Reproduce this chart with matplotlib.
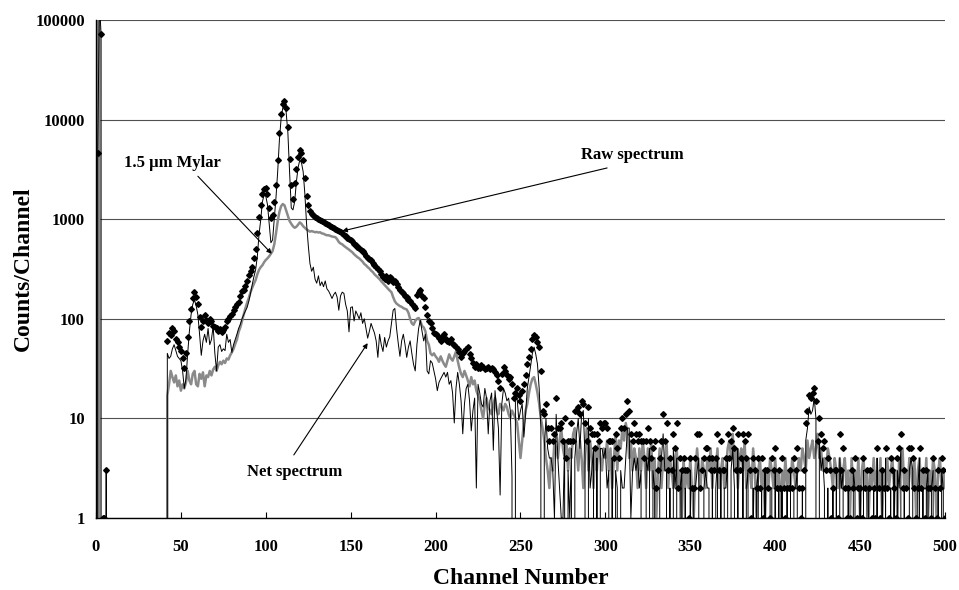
import numpy as np
import matplotlib
matplotlib.use('Agg')
import matplotlib.pyplot as plt

# Channels 0-7 hold the pulser / noise spike at the start of the spectrum.
spike_channels = [0, 1, 2, 3, 4, 5, 6, 7]
spike_raw = [0, 4600, 150000, 72000, 1, 1, 3, 0]
spike_mylar = [0, 150000, 150000, 0, 0, 0, 0, 0]
spike_net = [0, 4600, 150000, 72000, 0, 0, 3, 0]

# Main part of the spectrum, channels 41-500 (one value per channel).
main_start = 41
main_stop = 500

raw_counts = [
    0, 60, 72, 68, 80, 75, 62, 58, 52, 48,
    40, 32, 45, 66, 95, 125, 160, 185, 165, 140,
    105, 82, 95, 108, 98, 90, 100, 96, 85, 82,
    80, 76, 79, 74, 78, 82, 96, 100, 106, 112,
    122, 130, 140, 146, 170, 190, 195, 215, 240, 275,
    300, 330, 410, 500, 720, 1050, 1400, 1800, 2000, 2050,
    1800, 1300, 1020, 1100, 1500, 2200, 3900, 7300, 11500, 14500,
    15500, 13000, 8500, 4000, 2200, 1600, 2300, 3200, 4200, 4900,
    4600, 3900, 2600, 1700, 1400, 1200, 1130, 1100, 1060, 1040,
    1000, 990, 960, 940, 920, 900, 880, 860, 830, 810,
    800, 780, 760, 740, 720, 700, 680, 650, 640, 620,
    600, 560, 545, 530, 510, 490, 480, 460, 430, 410,
    395, 385, 360, 350, 330, 315, 300, 285, 260, 250,
    270, 240, 265, 255, 235, 240, 225, 210, 195, 185,
    180, 170, 165, 155, 150, 142, 135, 128, 175, 185,
    195, 170, 160, 132, 110, 94, 90, 80, 72, 70,
    68, 64, 60, 66, 70, 62, 60, 59, 62, 56,
    55, 52, 50, 46, 41, 45, 47, 50, 52, 44,
    40, 36, 33, 35, 32, 32, 34, 33, 31, 32,
    33, 31, 32, 31, 29, 27, 24, 20, 28, 33,
    30, 27, 25, 26, 22, 16, 18, 20, 17, 15,
    19, 22, 27, 35, 41, 50, 62, 69, 66, 58,
    52, 30, 12, 11, 14, 8, 6, 8, 6, 7,
    16, 8, 8, 9, 6, 10, 4, 6, 6, 9,
    6, 12, 12, 13, 11, 15, 14, 9, 6, 13,
    8, 7, 7, 5, 7, 6, 9, 8, 9, 9,
    8, 6, 6, 6, 4, 7, 5, 4, 8, 10,
    8, 11, 15, 12, 7, 6, 9, 7, 6, 7,
    6, 6, 4, 6, 8, 6, 4, 5, 6, 2,
    3, 4, 6, 11, 6, 9, 3, 4, 3, 7,
    5, 9, 2, 4, 3, 4, 3, 3, 1, 4,
    2, 2, 4, 7, 7, 2, 3, 4, 5, 5,
    4, 3, 4, 3, 4, 7, 3, 6, 3, 3,
    4, 7, 4, 6, 8, 5, 3, 7, 3, 4,
    7, 6, 4, 7, 3, 1, 4, 3, 2, 4,
    2, 4, 1, 3, 3, 2, 1, 4, 3, 5,
    2, 3, 2, 4, 2, 1, 2, 2, 3, 2,
    4, 3, 5, 2, 1, 2, 3, 9, 12, 17,
    16, 18, 20, 15, 6, 10, 7, 5, 6, 3,
    4, 3, 1, 2, 3, 3, 1, 7, 3, 5,
    2, 1, 2, 1, 3, 2, 4, 1, 2, 2,
    1, 4, 2, 3, 2, 3, 1, 2, 1, 5,
    2, 1, 3, 2, 5, 2, 1, 4, 3, 2,
    1, 4, 5, 7, 2, 3, 2, 1, 5, 5,
    4, 2, 1, 2, 5, 2, 3, 1, 3, 2,
    2, 1, 4, 2, 1, 3, 2, 4, 3, 1,
]

mylar_counts = [
    0, 17, 22, 30, 26, 23, 27, 21, 24, 19,
    22, 20, 23, 30, 24, 22, 28, 30, 22, 21,
    28, 25, 29, 21, 27, 26, 30, 27, 31, 33,
    30, 34, 37, 35, 38, 36, 40, 39, 43, 46,
    50, 56, 62, 74, 82, 95, 110, 128, 145, 162,
    185, 205, 225, 245, 280, 310, 330, 345, 370, 390,
    405, 425, 450, 480, 560, 720, 950, 1180, 1350, 1420,
    1380, 1220, 1080, 960, 900, 850, 820, 840, 880, 930,
    900, 850, 820, 790, 770, 750, 760, 750, 740, 745,
    735, 740, 720, 715, 700, 690, 690, 680, 670, 665,
    660, 630, 590, 570, 560, 540, 525, 510, 495, 480,
    465, 445, 430, 415, 405, 390, 375, 355, 345, 330,
    320, 305, 295, 280, 270, 260, 250, 238, 228, 218,
    210, 200, 192, 185, 165, 150, 142, 138, 134, 132,
    128, 126, 124, 115, 100, 90, 87, 95, 100, 102,
    95, 85, 82, 75, 60, 55, 45, 43, 45, 42,
    40, 37, 42, 38, 35, 33, 38, 44, 40, 38,
    42, 47, 38, 32, 28, 26, 30, 27, 24, 21,
    26, 22, 24, 19, 17, 15, 12, 10, 14, 16,
    13, 12, 11, 14, 16, 12, 11, 14, 13, 12,
    14, 13, 11, 10, 12, 11, 10, 9, 6, 4,
    6, 9, 12, 14, 18, 22, 25, 26, 22, 18,
    14, 10, 8, 6, 4, 3, 2, 4, 3, 6,
    5, 4, 6, 8, 5, 4, 6, 3, 5, 4,
    7, 8, 5, 3, 6, 4, 2, 5, 8, 3,
    6, 4, 2, 5, 3, 6, 4, 3, 5, 4,
    6, 3, 5, 2, 4, 7, 3, 6, 5, 8,
    6, 9, 7, 4, 6, 3, 5, 4, 2, 5,
    3, 6, 4, 2, 5, 3, 6, 2, 4, 1,
    3, 5, 2, 4, 3, 6, 2, 4, 3, 2,
    4, 5, 2, 3, 1, 4, 2, 3, 2, 4,
    2, 1, 3, 5, 3, 2, 4, 3, 2, 4,
    3, 5, 2, 4, 3, 5, 2, 3, 4, 2,
    3, 5, 6, 4, 7, 3, 5, 2, 4, 5,
    3, 6, 2, 4, 3, 2, 5, 3, 1, 3,
    4, 2, 3, 1, 3, 2, 4, 3, 2, 4,
    2, 3, 1, 3, 2, 4, 2, 3, 2, 4,
    3, 2, 3, 4, 3, 5, 4, 3, 6, 4,
    5, 6, 4, 5, 7, 4, 5, 3, 4, 3,
    5, 4, 3, 2, 4, 3, 2, 4, 2, 3,
    4, 2, 3, 1, 4, 2, 3, 2, 4, 1,
    3, 4, 2, 3, 1, 3, 2, 4, 2, 3,
    2, 4, 1, 3, 2, 4, 2, 3, 4, 2,
    3, 1, 4, 3, 5, 2, 3, 2, 4, 3,
    2, 4, 1, 3, 4, 2, 3, 2, 4, 1,
    3, 2, 4, 3, 1, 3, 4, 2, 3, 2,
]

net_counts = [
    0, 45, 40, 42, 50, 55, 48, 42, 40, 38,
    30, 20, 25, 45, 75, 110, 140, 155, 135, 110,
    70, 43, 60, 70, 58, 80, 55, 62, 85, 45,
    30, 52, 55, 47, 50, 48, 70, 58, 62, 46,
    55, 62, 70, 80, 88, 100, 110, 120, 130, 150,
    180, 220, 265, 310, 420, 700, 980, 1500, 1750, 1700,
    1400, 900, 580, 620, 1000, 1650, 3000, 6200, 10200, 13100,
    14100, 11800, 7400, 3000, 1300, 1240, 1500, 2350, 3300, 3900,
    3700, 3000, 1800, 910, 550, 360, 300, 330, 250, 228,
    270, 215, 235, 210, 240, 200, 190, 175, 160, 175,
    185, 165, 122, 170, 185, 180, 140, 120, 74, 130,
    132, 95, 120, 110, 100, 115, 90, 100, 80, 64,
    75, 90, 80, 72, 60, 41, 70, 55, 47, 65,
    52, 60, 66, 90, 122, 127, 80, 57, 42, 60,
    70, 55, 41, 52, 60, 45, 35, 30, 55, 80,
    97, 75, 60, 70, 30, 28, 38, 36, 30, 25,
    19, 23, 25, 27, 29, 26, 29, 22, 24, 18,
    9, 20, 29, 22, 15, 7, 14, 20, 22, 15,
    7.5, 12, 16, 2, 22, 18, 14, 13, 20, 16,
    7, 15, 18, 4.8, 19, 12, 8, 1.7, 14, 20,
    18, 15, 16, 12, 2.6, 0, 18, 16, 9.6, 12,
    14, 6.5, 11, 20, 26, 34, 45, 52, 44, 35,
    20, 8, 0, 5, 10, 5, 4, 4, 3, 1,
    11, 4, 2, 1, 1, 6, 0, 3, 1, 5,
    0, 4, 7, 10, 5, 11, 12, 4, 0, 10,
    2, 3, 5, 0, 4, 0, 5, 5, 4, 5,
    2, 3, 0, 4, 0, 3, 2, 0, 3, 2,
    2, 4, 8, 8, 1, 3, 4, 3, 4, 2,
    3, 0, 0, 4, 3, 5, 0, 3, 2, 0,
    0, 2, 4, 7, 3, 3, 0, 2, 0, 5,
    2, 4, 0, 2, 3, 0, 2, 0, 0, 3,
    0, 2, 2, 3, 4, 0, 0, 2, 3, 2,
    2, 0, 3, 0, 2, 4, 0, 3, 0, 2,
    2, 4, 0, 3, 5, 2, 0, 5, 0, 0,
    4, 0, 2, 3, 0, 0, 2, 0, 2, 3,
    0, 2, 0, 3, 0, 0, 2, 2, 0, 3,
    0, 2, 0, 2, 0, 0, 2, 0, 3, 0,
    2, 2, 3, 0, 0, 2, 0, 6, 8, 13,
    11, 12, 16, 10, 0, 6, 3, 4, 2, 0,
    2, 0, 0, 2, 0, 3, 0, 4, 2, 3,
    0, 0, 2, 0, 0, 3, 2, 0, 0, 2,
    0, 3, 0, 2, 2, 0, 0, 2, 0, 4,
    0, 0, 3, 0, 4, 0, 0, 2, 0, 3,
    0, 3, 2, 5, 0, 2, 0, 0, 3, 4,
    3, 0, 0, 2, 4, 0, 2, 0, 2, 3,
    0, 2, 3, 0, 0, 2, 0, 3, 2, 0,
]

x_ticks = [0, 50, 100, 150, 200, 250, 300, 350, 400, 450, 500]
y_ticks = [1, 10, 100, 1000, 10000, 100000]
y_tick_labels = ['1', '10', '100', '1000', '10000', '100000']

# Annotation anchors in data coordinates (channel, counts).
label_raw = (316, 4400)
arrow_raw_from = (301, 3270)
arrow_raw_to = (145, 760)
label_mylar = (45, 3660)
arrow_mylar_from = (60, 2700)
arrow_mylar_to = (103.5, 450)
label_net = (117, 2.9)
arrow_net_from = (116.5, 4.3)
arrow_net_to = (160, 57)


def build_series():

    """Join the spike block and the main block into one array per series."""

    channels = np.concatenate([spike_channels, np.arange(main_start, main_stop + 1)])
    raw = np.concatenate([spike_raw, raw_counts]).astype(float)
    mylar = np.concatenate([spike_mylar, mylar_counts]).astype(float)
    net = np.concatenate([spike_net, net_counts]).astype(float)
    return channels, raw, mylar, net


def main():

    """Draw the spectrum chart and save it."""

    font = 'Liberation Serif'
    channels, raw, mylar, net = build_series()

    fig = plt.figure(figsize=(9.59, 5.90), dpi=100)
    ax = fig.add_axes([0.1001, 0.1220, 0.8853, 0.8441])

    # Gray background (mylar) line, thin black net line, black raw markers.
    ax.plot(channels, mylar, color='#8a8a8a', lw=1.8, zorder=2)
    ax.plot(channels, net, color='black', lw=0.7, zorder=3)
    ax.plot(channels, raw, ls='none', marker='D', ms=2.9, color='black', zorder=4)

    ax.set_yscale('log', nonpositive='clip')
    ax.set_xlim(0, 500)
    ax.set_ylim(1, 100000)

    ax.set_xticks(x_ticks)
    ax.set_xticklabels([str(t) for t in x_ticks], fontfamily=font, fontweight='bold', fontsize=12)
    ax.set_yticks(y_ticks)
    ax.set_yticklabels(y_tick_labels, fontfamily=font, fontweight='bold', fontsize=12)
    ax.yaxis.set_minor_locator(matplotlib.ticker.NullLocator())
    ax.tick_params(axis='x', direction='in', length=4, width=0.8, pad=15)
    ax.tick_params(axis='y', length=0, pad=8)

    ax.grid(axis='y', color='#505050', lw=0.8)
    ax.set_axisbelow(True)
    for side in ['top', 'right']:
        ax.spines[side].set_visible(False)
    for side in ['left', 'bottom']:
        ax.spines[side].set_linewidth(1.0)
        ax.spines[side].set_zorder(5)

    # Axis titles placed on the figure so they sit where the original has them.
    fig.text(0.5428, 1 - 579 / 590, 'Channel Number', fontfamily=font, fontweight='bold',
             fontsize=17, ha='center', va='center')
    fig.text(23 / 959, 1 - 269 / 590, 'Counts/Channel', fontfamily=font, fontweight='bold',
             fontsize=17, ha='center', va='center', rotation=90)

    # Labels with their pointer lines.
    arrow = dict(arrowstyle='-|>', color='black', lw=0.8, mutation_scale=7, shrinkA=0, shrinkB=0)
    text_style = dict(fontfamily=font, fontweight='bold', fontsize=12, ha='center', va='center')
    ax.text(*label_raw, 'Raw spectrum', **text_style)
    ax.annotate('', xy=arrow_raw_to, xytext=arrow_raw_from, arrowprops=arrow)
    ax.text(*label_mylar, '1.5 \u03bcm Mylar', **text_style)
    ax.annotate('', xy=arrow_mylar_to, xytext=arrow_mylar_from, arrowprops=arrow)
    ax.text(*label_net, 'Net spectrum', **text_style)
    ax.annotate('', xy=arrow_net_to, xytext=arrow_net_from, arrowprops=arrow)

    fig.savefig('out.png', dpi=100)


if __name__ == "__main__":
    main()
